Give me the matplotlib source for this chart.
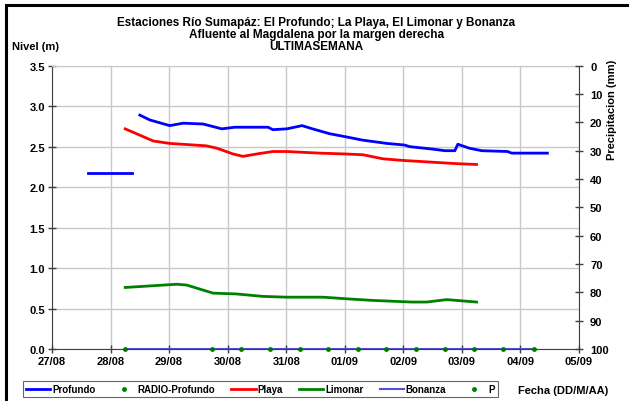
import matplotlib.pyplot as plt
from matplotlib.patches import Rectangle

plt.rcParams['font.family'] = ['Liberation Sans', 'DejaVu Sans']
plt.rcParams['font.weight'] = 'bold'

# Dates as days after 27/08
day_labels = ["27/08", "28/08", "29/08", "30/08", "31/08", "01/09", "02/09", "03/09", "04/09", "05/09"]

# Profundo (two pieces)
prof1_t = [0.61, 1.37]
prof1_v = [2.18, 2.18]
prof_t = [1.50, 1.67, 2.01, 2.24, 2.58, 2.90, 3.12, 3.69, 3.77, 4.01, 4.27, 4.45, 4.74,
          5.03, 5.31, 5.72, 6.02, 6.11, 6.50, 6.71, 6.88, 6.93, 7.13, 7.34, 7.78, 7.85, 8.16, 8.46]
prof_v = [2.89, 2.83, 2.76, 2.79, 2.78, 2.72, 2.74, 2.74, 2.71, 2.72, 2.76, 2.72, 2.66,
          2.62, 2.58, 2.54, 2.52, 2.50, 2.47, 2.45, 2.45, 2.53, 2.48, 2.45, 2.44, 2.42, 2.42, 2.42]

# Playa
playa_t = [1.25, 1.73, 2.01, 2.64, 2.82, 3.09, 3.26, 3.50, 3.77, 4.01, 4.57, 5.00, 5.31,
           5.65, 5.99, 6.45, 6.91, 7.25]
playa_v = [2.72, 2.57, 2.54, 2.51, 2.48, 2.41, 2.38, 2.41, 2.44, 2.44, 2.42, 2.41, 2.40,
           2.35, 2.33, 2.31, 2.29, 2.28]

# Limonar
limonar_t = [1.25, 2.13, 2.30, 2.75, 3.15, 3.60, 4.01, 4.63, 5.03, 5.48, 6.14, 6.40, 6.74, 7.25]
limonar_v = [0.76, 0.80, 0.79, 0.69, 0.68, 0.65, 0.64, 0.64, 0.62, 0.60, 0.58, 0.58, 0.61, 0.58]

# Bonanza
bonanza_t = [1.25, 8.24]
bonanza_v = [0.0, 0.0]

# P points at zero
p_t = [1.25, 2.73, 3.22, 3.73, 4.23, 4.72, 5.22, 5.70, 6.21, 6.71, 7.20, 7.70, 8.24]
p_v = [0.0] * len(p_t)

fig = plt.figure(figsize=(6.29, 4.02), dpi=100)
ax = fig.add_axes([0.0827, 0.1294, 0.8378, 0.7046])

grid_c = '#c8c8c8'
ax.set_xlim(0, 9)
ax.set_ylim(0, 3.5)
ax.set_xticks(range(10))
ax.set_xticklabels(day_labels)
ax.set_yticks([0, 0.5, 1.0, 1.5, 2.0, 2.5, 3.0, 3.5])
ax.set_yticklabels(["%.1f" % v for v in ax.get_yticks()])
ax.grid(True, color=grid_c, lw=1.0)
ax.set_axisbelow(True)
for s in ['left', 'bottom']:
    ax.spines[s].set_color('#404040')
ax.spines['top'].set_color(grid_c)
ax.spines['right'].set_visible(False)
ax.tick_params(direction='inout', length=6, width=1, color='#404040', labelsize=8, pad=2)

l1, = ax.plot(prof1_t, prof1_v, color='#0000ff', lw=2.0, label='Profundo')
ax.plot(prof_t, prof_v, color='#0000ff', lw=2.0)
l2, = ax.plot([], [], ls='none', marker='o', ms=2.5, color='#008000', label='RADIO-Profundo')
l3, = ax.plot(playa_t, playa_v, color='#ff0000', lw=2.0, label='Playa')
l4, = ax.plot(limonar_t, limonar_v, color='#008000', lw=2.0, label='Limonar')
l5, = ax.plot(bonanza_t, bonanza_v, color='#5050d8', lw=1.5, label='Bonanza', clip_on=False)
l6, = ax.plot(p_t, p_v, ls='none', marker='o', ms=2.5, color='#008000', label='P', clip_on=False)

ax2 = ax.twinx()
ax2.set_ylim(100, 0)
ax2.set_yticks(range(0, 101, 10))
for s in ['left', 'top', 'bottom']:
    ax2.spines[s].set_visible(False)
ax2.spines['right'].set_color('#404040')
ax2.tick_params(direction='inout', length=6, width=1, color='#404040', labelsize=8, pad=5)

fig.text(0.503, 1 - 35 / 402, "Estaciones Río Sumapáz: El Profundo; La Playa, El Limonar y Bonanza\n"
         "Afluente al Magdalena por la margen derecha\nULTIMASEMANA",
         ha='center', va='center', fontsize=8.5, fontweight='bold', linespacing=1.0)
fig.text(12 / 629, 1 - 47 / 402, "Nivel (m)", fontsize=8, fontweight='bold', va='center')
fig.text(612 / 629, 1 - 60 / 402, "Precipitacion (mm)", rotation=90, fontsize=8,
         fontweight='bold', va='top', ha='center')
fig.text(518 / 629, 1 - 391 / 402, "Fecha (DD/M/AA)", fontsize=8, fontweight='bold', va='center')

leg = fig.legend(handles=[l1, l2, l3, l4, l5, l6], loc='lower left', ncol=6,
                 bbox_to_anchor=(23 / 629, 1 - 398 / 402, 475 / 629, 20 / 402), mode='expand',
                 fontsize=7, frameon=True, fancybox=False, edgecolor='#404040',
                 handlelength=2.5, handletextpad=0.2, borderpad=0.3, columnspacing=0.8,
                 borderaxespad=0)
leg.get_frame().set_linewidth(0.8)

fig.patches.append(Rectangle((6 / 629, -0.1), 1.2, 1 - 6 / 402 + 0.1, transform=fig.transFigure,
                             fill=False, ec='black', lw=2.2))

fig.savefig('out.png', dpi=100)
